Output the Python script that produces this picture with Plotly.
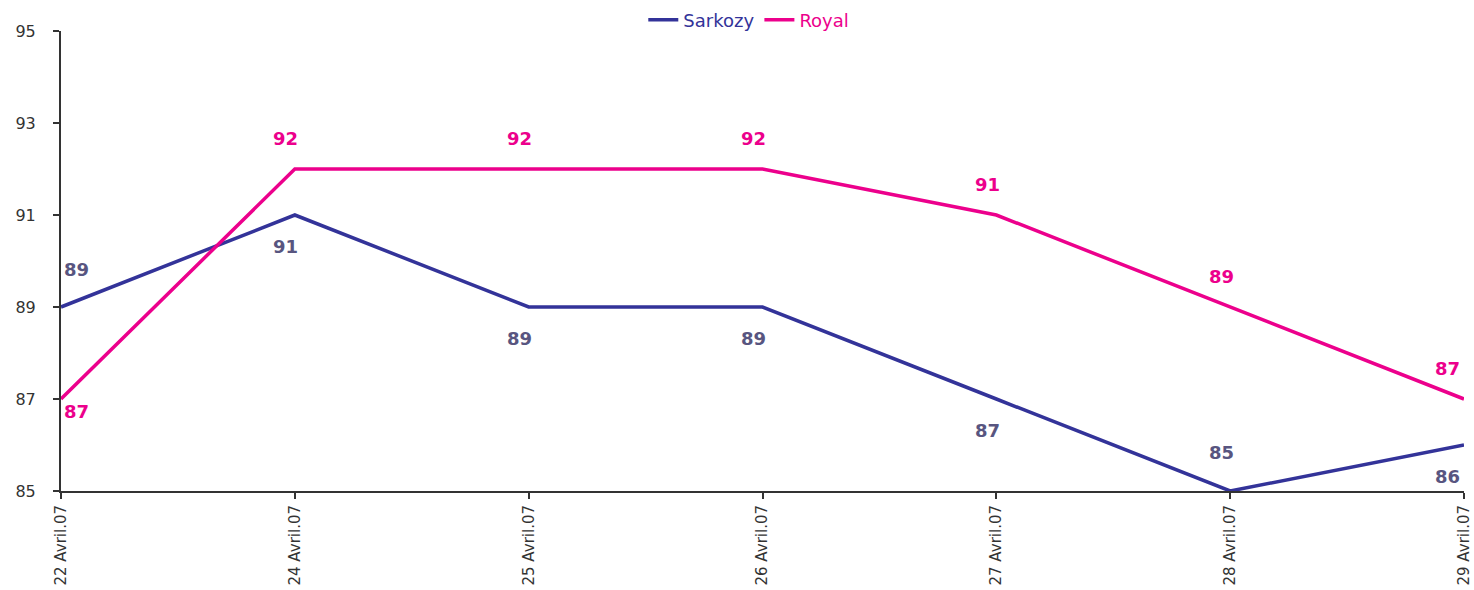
import plotly.graph_objects as go

dates = ["22 Avril.07", "24 Avril.07", "25 Avril.07", "26 Avril.07", "27 Avril.07", "28 Avril.07", "29 Avril.07"]
sarkozy = [89, 91, 89, 89, 87, 85, 86]
royal = [87, 92, 92, 92, 91, 89, 87]
# label placement: +1 above, -1 below
sarkozy_pos = [1, -1, -1, -1, -1, 1, -1]
royal_pos = [-1, 1, 1, 1, 1, 1, 1]

c_s = "#333399"
c_r = "#ec008c"
c_sl = "#585580"

fig = go.Figure()
fig.add_trace(go.Scatter(x=dates, y=sarkozy, mode="lines",
                         name=f"<span style='color:{c_s}'>Sarkozy</span>",
                         line=dict(color=c_s, width=3.5)))
fig.add_trace(go.Scatter(x=dates, y=royal, mode="lines",
                         name=f"<span style='color:{c_r}'>Royal</span>",
                         line=dict(color=c_r, width=3.5)))

n = len(dates)
for vals, pos, col in [(sarkozy, sarkozy_pos, c_sl), (royal, royal_pos, c_r)]:
    for i, (d, v, p) in enumerate(zip(dates, vals, pos)):
        xs = 15 if i == 0 else (-17 if i == n - 1 else -9)
        if i == 0:
            ys = 38 if p > 0 else -12
        elif p > 0 and v == 85:
            ys = 39
        else:
            ys = 31 * p
        fig.add_annotation(x=d, y=v, text=str(v), showarrow=False,
                           xshift=xs, yshift=ys,
                           font=dict(color=col, size=18, family="DejaVu Sans", weight="bold"))

fig.update_layout(
    width=1474, height=590,
    margin=dict(l=61, r=10, t=31, b=99, autoexpand=False),
    plot_bgcolor="white", paper_bgcolor="white",
    font=dict(family="DejaVu Sans", color="#333333", size=15),
    legend=dict(orientation="h", x=0.508, xanchor="center", xref="container",
                y=0.966, yanchor="middle", yref="container",
                font=dict(size=18), traceorder="normal",
                bgcolor="rgba(0,0,0,0)"),
    showlegend=True,
)
fig.update_xaxes(type="category", range=[0, n - 1], showgrid=False, automargin=False,
                 showline=True, linecolor="#333333", linewidth=2,
                 ticks="outside", ticklen=6, tickcolor="#333333", tickwidth=2,
                 tickangle=-90, tickfont=dict(size=15, color="#333333"))
fig.update_yaxes(range=[85, 95], dtick=2, tick0=85, showgrid=False, automargin=False,
                 showline=True, linecolor="#333333", linewidth=2,
                 ticks="outside", ticklen=6, tickcolor="#333333", tickwidth=2,
                 ticklabelstandoff=14,
                 tickfont=dict(size=16, color="#333333"), zeroline=False)

fig.write_html("out.html", config={"displayModeBar": False},
               post_script="document.body.style.margin='0';document.body.style.overflow='hidden';")
